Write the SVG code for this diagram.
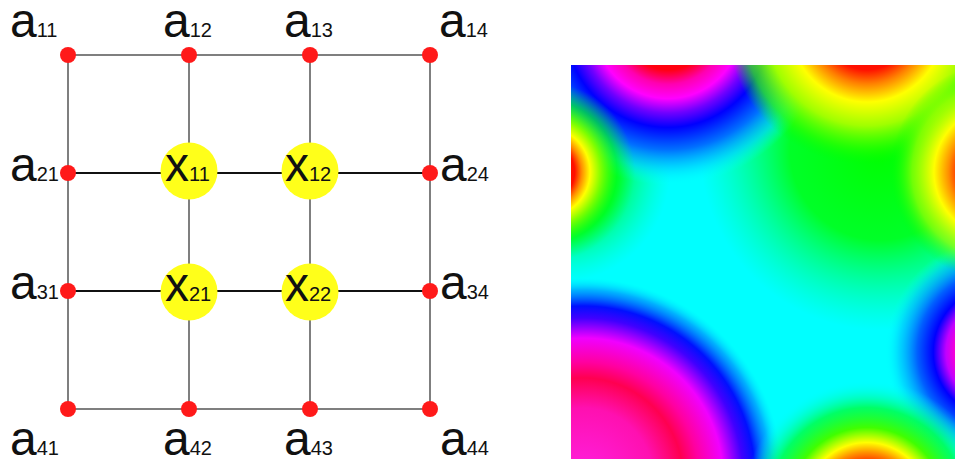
<svg xmlns="http://www.w3.org/2000/svg" width="955" height="459" viewBox="0 0 955 459">
<style>
  text { font-family: "Liberation Sans", Arial, sans-serif; fill: #111; }
  .b { font-size: 48px; }
  .s { font-size: 20px; }
  .frame { stroke: #555; stroke-width: 1.5; fill: none; }
  .hmid { stroke: #111; stroke-width: 2.2; }
  .dot { fill: #ff1a1a; }
  .xnode { fill: #ffff1a; }
</style>
<defs>
  <clipPath id="fieldClip"><rect x="571" y="65" width="384" height="394"/></clipPath>
  <radialGradient id="gGreen" gradientUnits="userSpaceOnUse" cx="880" cy="150" r="180">
    <stop offset="0" stop-color="#00ff00" stop-opacity="1"/>
    <stop offset="0.5" stop-color="#00ff10" stop-opacity="0.9"/>
    <stop offset="1" stop-color="#00ff80" stop-opacity="0"/>
  </radialGradient>
  <radialGradient id="gGreenL" gradientUnits="userSpaceOnUse" cx="560" cy="172" r="110">
    <stop offset="0" stop-color="#00ff00" stop-opacity="1"/>
    <stop offset="0.55" stop-color="#00ff30" stop-opacity="0.8"/>
    <stop offset="1" stop-color="#00ffa0" stop-opacity="0"/>
  </radialGradient>
  <radialGradient id="gLL" gradientUnits="userSpaceOnUse" cx="583" cy="478" r="200">
    <stop offset="0" stop-color="#ff20e0"/>
    <stop offset="0.35" stop-color="#ff10b0"/>
    <stop offset="0.5" stop-color="#ff0050"/>
    <stop offset="0.58" stop-color="#ff00a0"/>
    <stop offset="0.7" stop-color="#f000ff"/>
    <stop offset="0.8" stop-color="#4000ff"/>
    <stop offset="0.86" stop-color="#0010ff"/>
    <stop offset="0.94" stop-color="#0090ff" stop-opacity="0.7"/>
    <stop offset="1" stop-color="#00e0ff" stop-opacity="0"/>
  </radialGradient>
  <radialGradient id="gTL" gradientUnits="userSpaceOnUse" cx="668" cy="25" r="160">
    <stop offset="0" stop-color="#ff0000"/>
    <stop offset="0.28" stop-color="#ff0010"/>
    <stop offset="0.37" stop-color="#ff00b0"/>
    <stop offset="0.46" stop-color="#ff00ff"/>
    <stop offset="0.55" stop-color="#7000ff"/>
    <stop offset="0.64" stop-color="#0000ff"/>
    <stop offset="0.78" stop-color="#0070ff"/>
    <stop offset="0.9" stop-color="#00d0ff" stop-opacity="0.7"/>
    <stop offset="1" stop-color="#00ffff" stop-opacity="0"/>
  </radialGradient>
  <radialGradient id="gTR" gradientUnits="userSpaceOnUse" cx="867" cy="25" r="140">
    <stop offset="0" stop-color="#ff0000"/>
    <stop offset="0.32" stop-color="#ff1000"/>
    <stop offset="0.42" stop-color="#ff8000"/>
    <stop offset="0.55" stop-color="#ffff00"/>
    <stop offset="0.72" stop-color="#a0ff00"/>
    <stop offset="0.88" stop-color="#30ff00" stop-opacity="0.7"/>
    <stop offset="1" stop-color="#00ff00" stop-opacity="0"/>
  </radialGradient>
  <radialGradient id="gRM" gradientUnits="userSpaceOnUse" cx="1000" cy="172" r="110">
    <stop offset="0" stop-color="#ff0000"/>
    <stop offset="0.38" stop-color="#ff3000"/>
    <stop offset="0.47" stop-color="#ff9000"/>
    <stop offset="0.6" stop-color="#ffff00"/>
    <stop offset="0.8" stop-color="#a0ff00" stop-opacity="0.7"/>
    <stop offset="1" stop-color="#00ff00" stop-opacity="0"/>
  </radialGradient>
  <radialGradient id="gLM" gradientUnits="userSpaceOnUse" cx="545" cy="172" r="90">
    <stop offset="0" stop-color="#ff0000"/>
    <stop offset="0.33" stop-color="#ff1000"/>
    <stop offset="0.41" stop-color="#ff9000"/>
    <stop offset="0.5" stop-color="#ffff00"/>
    <stop offset="0.62" stop-color="#80ff00"/>
    <stop offset="0.8" stop-color="#00ff00" stop-opacity="0.6"/>
    <stop offset="1" stop-color="#00ff40" stop-opacity="0"/>
  </radialGradient>
  <radialGradient id="gBR" gradientUnits="userSpaceOnUse" cx="867" cy="505" r="125">
    <stop offset="0" stop-color="#ff0000"/>
    <stop offset="0.33" stop-color="#ff2000"/>
    <stop offset="0.42" stop-color="#ff9000"/>
    <stop offset="0.5" stop-color="#ffff00"/>
    <stop offset="0.62" stop-color="#40ff00"/>
    <stop offset="0.78" stop-color="#00ff40" stop-opacity="0.8"/>
    <stop offset="1" stop-color="#00ffff" stop-opacity="0"/>
  </radialGradient>
  <radialGradient id="gRL" gradientUnits="userSpaceOnUse" cx="1000" cy="352" r="115">
    <stop offset="0" stop-color="#ff0060"/>
    <stop offset="0.38" stop-color="#ff00d0"/>
    <stop offset="0.47" stop-color="#c000ff"/>
    <stop offset="0.58" stop-color="#0000ff"/>
    <stop offset="0.72" stop-color="#0060ff"/>
    <stop offset="0.88" stop-color="#00c0ff" stop-opacity="0.6"/>
    <stop offset="1" stop-color="#00ffff" stop-opacity="0"/>
  </radialGradient>
</defs>

<g id="field" clip-path="url(#fieldClip)">
  <rect x="571" y="65" width="384" height="394" fill="#00ffff"/>
  <rect x="571" y="65" width="384" height="394" fill="url(#gGreen)"/>
  <rect x="571" y="65" width="384" height="394" fill="url(#gGreenL)"/>
  <rect x="571" y="65" width="384" height="394" fill="url(#gLL)"/>
  <rect x="571" y="65" width="384" height="394" fill="url(#gRL)"/>
  <rect x="571" y="65" width="384" height="394" fill="url(#gBR)"/>
  <rect x="571" y="65" width="384" height="394" fill="url(#gTL)"/>
  <rect x="571" y="65" width="384" height="394" fill="url(#gTR)"/>
  <rect x="571" y="65" width="384" height="394" fill="url(#gRM)"/>
  <rect x="571" y="65" width="384" height="394" fill="url(#gLM)"/>
</g>

<g id="connectors">
  <line class="frame" x1="68" y1="55" x2="430" y2="55"/>
  <line class="frame" x1="68" y1="409" x2="430" y2="409"/>
  <line class="frame" x1="68" y1="55" x2="68" y2="409"/>
  <line class="frame" x1="430" y1="55" x2="430" y2="409"/>
  <line class="frame" x1="189" y1="55" x2="189" y2="409"/>
  <line class="frame" x1="310" y1="55" x2="310" y2="409"/>
  <line class="hmid" x1="68" y1="173" x2="430" y2="173"/>
  <line class="hmid" x1="68" y1="291" x2="430" y2="291"/>
</g>

<g id="a11"><circle class="dot" cx="68" cy="55" r="8"/><text x="10" y="37"><tspan class="b">a</tspan><tspan class="s">11</tspan></text></g>
<g id="a12"><circle class="dot" cx="189" cy="55" r="8"/><text x="163" y="37"><tspan class="b">a</tspan><tspan class="s">12</tspan></text></g>
<g id="a13"><circle class="dot" cx="310" cy="55" r="8"/><text x="284" y="37"><tspan class="b">a</tspan><tspan class="s">13</tspan></text></g>
<g id="a14"><circle class="dot" cx="430" cy="55" r="8"/><text x="439" y="37"><tspan class="b">a</tspan><tspan class="s">14</tspan></text></g>

<g id="a21"><circle class="dot" cx="68" cy="173" r="8"/><text x="10" y="181"><tspan class="b">a</tspan><tspan class="s">21</tspan></text></g>
<g id="a24"><circle class="dot" cx="430" cy="173" r="8"/><text x="440" y="181"><tspan class="b">a</tspan><tspan class="s">24</tspan></text></g>
<g id="a31"><circle class="dot" cx="68" cy="291" r="8"/><text x="10" y="299"><tspan class="b">a</tspan><tspan class="s">31</tspan></text></g>
<g id="a34"><circle class="dot" cx="430" cy="291" r="8"/><text x="440" y="299"><tspan class="b">a</tspan><tspan class="s">34</tspan></text></g>

<g id="a41"><circle class="dot" cx="68" cy="409" r="8"/><text x="10" y="455"><tspan class="b">a</tspan><tspan class="s">41</tspan></text></g>
<g id="a42"><circle class="dot" cx="189" cy="409" r="8"/><text x="163" y="455"><tspan class="b">a</tspan><tspan class="s">42</tspan></text></g>
<g id="a43"><circle class="dot" cx="310" cy="409" r="8"/><text x="284" y="455"><tspan class="b">a</tspan><tspan class="s">43</tspan></text></g>
<g id="a44"><circle class="dot" cx="430" cy="409" r="8"/><text x="440" y="455"><tspan class="b">a</tspan><tspan class="s">44</tspan></text></g>

<g id="x11"><circle class="xnode" cx="189" cy="171" r="28.5"/><text x="165" y="181"><tspan class="b">x</tspan><tspan class="s">11</tspan></text></g>
<g id="x12"><circle class="xnode" cx="310" cy="171" r="28.5"/><text x="285" y="181"><tspan class="b">x</tspan><tspan class="s">12</tspan></text></g>
<g id="x21"><circle class="xnode" cx="189" cy="292" r="28.5"/><text x="165" y="301"><tspan class="b">x</tspan><tspan class="s">21</tspan></text></g>
<g id="x22"><circle class="xnode" cx="310" cy="292" r="28.5"/><text x="285" y="301"><tspan class="b">x</tspan><tspan class="s">22</tspan></text></g>
</svg>
